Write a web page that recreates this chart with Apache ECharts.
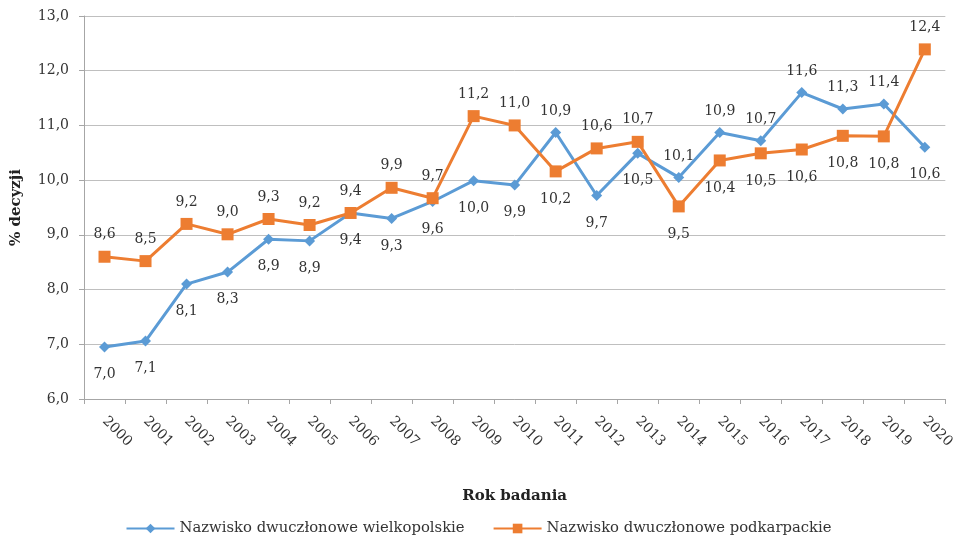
<!DOCTYPE html>
<html>
<head>
<meta charset="utf-8">
<script src="https://cdn.jsdelivr.net/npm/echarts@6/dist/echarts.min.js"></script>
<style>html,body{margin:0;padding:0;background:#fff}#c{width:957px;height:538px}</style>
</head>
<body>
<div id="c"></div>
<script>
const years = ['2000','2001','2002','2003','2004','2005','2006','2007','2008','2009','2010','2011','2012','2013','2014','2015','2016','2017','2018','2019','2020'];
const wielkopolskie = [6.95,7.06,8.10,8.32,8.92,8.89,9.40,9.30,9.61,9.99,9.91,10.87,9.72,10.49,10.05,10.87,10.72,11.60,11.30,11.39,10.60];
const podkarpackie = [8.60,8.52,9.20,9.01,9.29,9.18,9.40,9.86,9.67,11.17,11.00,10.16,10.58,10.70,9.52,10.36,10.49,10.56,10.81,10.80,12.39];
const seriesNames = ['Nazwisko dwuczłonowe wielkopolskie','Nazwisko dwuczłonowe podkarpackie'];
const yTicks = {min: 6, max: 13, interval: 1};

const FONT = 'DejaVu Serif';
const fmt = v => (Math.round(Number(v) * 10 + 1e-9) / 10).toFixed(1).replace('.', ',');

function items(vals, other, aboveWhenTie) {
  return vals.map((v, i) => {
    const above = aboveWhenTie ? v >= other[i] : v > other[i];
    return {
      value: v,
      label: { position: above ? 'top' : 'bottom', distance: above ? 9 : 15 }
    };
  });
}

const chart = echarts.init(document.getElementById('c'), null, {renderer: 'canvas'});
chart.setOption({
  animation: false,
  textStyle: { fontFamily: FONT },
  grid: { left: 84, right: 8, top: 16, bottom: 139, containLabel: false },
  legend: {
    bottom: 2,
    padding: 0,
    left: 'center',
    itemWidth: 48,
    itemHeight: 12,
    itemGap: 28,
    textStyle: { fontFamily: FONT, fontSize: 14.8, color: '#333' },
    data: seriesNames
  },
  xAxis: {
    type: 'category',
    data: years,
    boundaryGap: true,
    name: 'Rok badania',
    nameLocation: 'middle',
    nameGap: 90,
    nameTextStyle: { fontFamily: FONT, fontSize: 15, fontWeight: 'bold', color: '#222' },
    axisLine: { lineStyle: { color: '#a6a6a6', width: 1 } },
    axisTick: { show: true, length: 5, alignWithLabel: false, lineStyle: { color: '#a6a6a6' } },
    axisLabel: { rotate: -45, margin: 20, fontFamily: FONT, fontSize: 14, color: '#333', interval: 0 },
    splitLine: { show: false }
  },
  yAxis: {
    type: 'value',
    min: yTicks.min, max: yTicks.max, interval: yTicks.interval,
    name: '% decyzji',
    nameLocation: 'middle',
    nameGap: 60,
    nameRotate: 90,
    nameTextStyle: { fontFamily: FONT, fontSize: 15, fontWeight: 'bold', color: '#222' },
    axisLine: { show: true, lineStyle: { color: '#a6a6a6', width: 1 } },
    axisTick: { show: true, length: 5, lineStyle: { color: '#a6a6a6' } },
    axisLabel: { formatter: v => fmt(v), fontFamily: FONT, fontSize: 14, color: '#333', margin: 15 },
    splitLine: { show: true, lineStyle: { color: '#bfbfbf', width: 1 } }
  },
  series: [
    {
      name: seriesNames[0],
      type: 'line',
      data: items(wielkopolskie, podkarpackie, false),
      symbol: 'diamond',
      symbolSize: 11,
      lineStyle: { color: '#5B9BD5', width: 3 },
      itemStyle: { color: '#5B9BD5' },
      label: { show: true, formatter: p => fmt(p.value), fontFamily: FONT, fontSize: 14, color: '#333' },
      z: 2
    },
    {
      name: seriesNames[1],
      type: 'line',
      data: items(podkarpackie, wielkopolskie, true),
      symbol: 'rect',
      symbolSize: 12,
      lineStyle: { color: '#ED7D31', width: 3 },
      itemStyle: { color: '#ED7D31' },
      label: { show: true, formatter: p => fmt(p.value), fontFamily: FONT, fontSize: 14, color: '#333' },
      z: 3
    }
  ]
});
</script>
</body>
</html>
